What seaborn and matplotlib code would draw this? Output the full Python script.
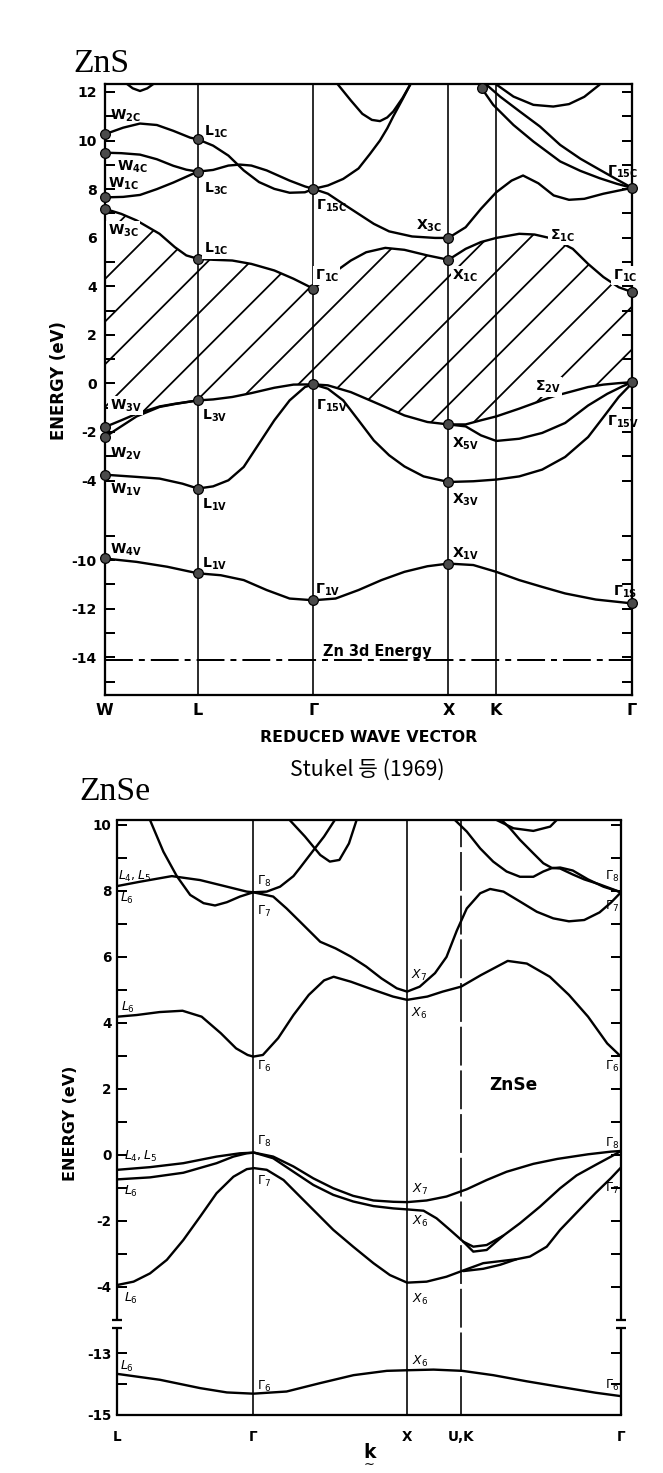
import numpy as np
import matplotlib
matplotlib.use("Agg")
import matplotlib.pyplot as plt
import seaborn as sns

# --------------------------
# Data
# k = path length along the Brillouin-zone path, arbitrary units from the scan
# E = energy in eV
# --------------------------

# ---- ZnS (Stukel et al. 1969) ----
zns_kpts = [117, 360, 662, 1015, 1138, 1495]
zns_klabels = ["W", "L", "Γ", "X", "K", "Γ"]

# lowest conduction band and top valence band on one k grid (hatched gap between them)
zns_k_gap = [117, 160, 200, 260, 300, 330, 360, 400, 450, 500, 560, 610, 662, 700, 760, 800,
             850, 900, 960, 1015, 1060, 1100, 1140, 1200, 1240, 1290, 1340, 1380, 1420, 1460, 1495]
zns_cb1 = [7.19, 6.98, 6.71, 6.16, 5.61, 5.27, 5.13, 5.09, 5.06, 4.92, 4.65, 4.31, 3.90, 4.38, 5.06, 5.40,
           5.58, 5.50, 5.27, 5.09, 5.54, 5.82, 5.99, 6.16, 6.13, 5.95, 5.54, 4.92, 4.38, 3.96, 3.76]
zns_vb1 = [-1.80, -1.52, -1.25, -0.95, -0.84, -0.77, -0.70, -0.66, -0.56, -0.40, -0.18, -0.05, -0.04, -0.08,
           -0.36, -0.63, -0.97, -1.32, -1.59, -1.69, -1.69, -1.52, -1.36, -1.04, -0.81, -0.53, -0.32,
           -0.15, -0.05, 0.01, 0.05]

zns_c2_k = [117, 165, 209, 253, 296, 340, 360, 400, 440, 470, 500, 540, 600, 640, 662, 700, 740, 780, 820,
            860, 920, 980, 1015, 1060, 1100, 1140, 1180, 1210, 1250, 1290, 1330, 1370, 1420, 1460, 1495]
zns_c2_e = [7.66, 7.68, 7.76, 8.00, 8.27, 8.58, 8.72, 8.79, 8.97, 9.01, 8.97, 8.77, 8.35, 8.11, 8.01, 7.81,
            7.39, 6.98, 6.57, 6.26, 6.05, 5.99, 5.99, 6.43, 7.19, 7.87, 8.35, 8.56, 8.24, 7.74, 7.56, 7.60,
            7.81, 7.94, 8.05]
zns_c3_k = [117, 160, 209, 253, 296, 330, 360]
zns_c3_e = [9.50, 9.48, 9.42, 9.23, 8.96, 8.80, 8.72]
zns_c4_k = [117, 165, 209, 253, 296, 340, 360, 400, 440, 480, 520, 560, 600, 640, 662, 700, 740, 780, 810,
            836, 855, 871, 895, 915]
zns_c4_e = [10.26, 10.53, 10.70, 10.64, 10.40, 10.12, 10.05, 9.79, 9.38, 8.77, 8.29, 8.01, 7.85, 7.87, 8.01,
            8.15, 8.42, 8.85, 9.45, 10.00, 10.50, 11.00, 11.70, 12.30]
zns_c5_k = [725, 760, 790, 815, 836, 855, 871, 895, 915]
zns_c5_e = [12.33, 11.65, 11.10, 10.85, 10.80, 10.95, 11.20, 11.75, 12.30]
zns_c6_k = [175, 190, 209, 228, 244]
zns_c6_e = [12.33, 12.15, 12.04, 12.15, 12.33]
zns_c7_k = [1102, 1132, 1185, 1237, 1307, 1360, 1410, 1455, 1495]
zns_c7_e = [12.15, 11.47, 10.64, 9.96, 9.14, 8.75, 8.45, 8.22, 8.05]
zns_c8_k = [1115, 1150, 1202, 1254, 1307, 1360, 1410, 1455, 1495]
zns_c8_e = [12.29, 11.81, 11.19, 10.58, 9.82, 9.25, 8.80, 8.40, 8.05]
zns_c9_k = [1141, 1185, 1237, 1289, 1330, 1370, 1410]
zns_c9_e = [12.30, 11.81, 11.47, 11.40, 11.50, 11.80, 12.30]

zns_v2_k = [117, 150, 200, 260, 300, 360]
zns_v2_e = [-2.21, -1.87, -1.36, -0.97, -0.85, -0.70]
zns_v3_k = [117, 200, 260, 320, 360, 400, 440, 480, 520, 560, 600, 640, 662, 700, 740, 780, 820, 860, 900,
            950, 1015, 1080, 1140, 1200, 1260, 1320, 1380, 1420, 1460, 1495]
zns_v3_e = [-3.76, -3.85, -3.92, -4.13, -4.33, -4.24, -3.99, -3.44, -2.48, -1.52, -0.70, -0.15, -0.04, -0.22,
            -0.70, -1.52, -2.35, -2.96, -3.42, -3.83, -4.06, -4.03, -3.96, -3.83, -3.55, -3.03, -2.21, -1.39,
            -0.56, 0.01]
zns_vs_k = [1015, 1060, 1100, 1140, 1200, 1260, 1320, 1380, 1430, 1470, 1495]
zns_vs_e = [-1.69, -1.77, -2.14, -2.37, -2.28, -2.04, -1.63, -0.91, -0.43, -0.12, 0.05]
zns_v4_k = [117, 200, 280, 360, 420, 480, 540, 600, 662, 720, 780, 840, 900, 960, 1015, 1080, 1140, 1200,
            1260, 1320, 1400, 1495]
zns_v4_e = [-9.93, -10.07, -10.27, -10.54, -10.62, -10.82, -11.23, -11.58, -11.65, -11.58, -11.23, -10.82,
            -10.48, -10.25, -10.14, -10.20, -10.48, -10.82, -11.10, -11.37, -11.62, -11.78]

zns_zn3d = -14.11

zns_dot_k = [117, 117, 117, 117, 117, 117, 117, 117,
             360, 360, 360, 360, 360, 360,
             662, 662, 662, 662,
             1015, 1015, 1015, 1015, 1015,
             1495, 1495, 1495, 1495, 1102]
zns_dot_e = [10.26, 9.50, 7.66, 7.17, -1.80, -2.21, -3.76, -9.93,
             10.05, 8.72, 5.13, -0.70, -4.33, -10.54,
             8.01, 3.90, -0.04, -11.65,
             5.99, 5.09, -1.69, -4.06, -10.14,
             8.05, 3.76, 0.05, -11.78, 12.15]

zns_labels = [
    (r"$\mathbf{W_{2C}}$", 130, 11.03), (r"$\mathbf{W_{4C}}$", 150, 8.93),
    (r"$\mathbf{W_{1C}}$", 125, 8.22), (r"$\mathbf{L_{1C}}$", 375, 10.34),
    (r"$\mathbf{L_{3C}}$", 375, 8.01), (r"$\mathbf{\Gamma_{15C}}$", 668, 7.33),
    (r"$\mathbf{X_{3C}}$", 930, 6.50), (r"$\mathbf{\Gamma_{15C}}$", 1430, 8.70),
    (r"$\mathbf{L_{3V}}$", 370, -1.32), (r"$\mathbf{W_{2V}}$", 130, -2.89),
    (r"$\mathbf{W_{1V}}$", 130, -4.40), (r"$\mathbf{L_{1V}}$", 370, -5.02),
    (r"$\mathbf{\Gamma_{15V}}$", 668, -0.91), (r"$\mathbf{X_{5V}}$", 1025, -2.48),
    (r"$\mathbf{X_{3V}}$", 1025, -4.81), (r"$\mathbf{\Gamma_{15V}}$", 1430, -1.59),
    (r"$\mathbf{W_{4V}}$", 130, -9.58), (r"$\mathbf{L_{1V}}$", 370, -10.13),
    (r"$\mathbf{X_{1V}}$", 1025, -9.72), (r"$\mathbf{\Gamma_{1V}}$", 665, -11.23),
    (r"$\mathbf{\Gamma_{1S}}$", 1445, -11.30),
]
# labels sitting on the hatched area get a white background
zns_labels_boxed = [
    (r"$\mathbf{W_{3C}}$", 125, 6.30), (r"$\mathbf{L_{1C}}$", 375, 5.54),
    (r"$\mathbf{\Gamma_{1C}}$", 665, 4.44), (r"$\mathbf{X_{1C}}$", 1025, 4.44),
    (r"$\mathbf{\Sigma_{1C}}$", 1280, 6.09), (r"$\mathbf{\Gamma_{1C}}$", 1445, 4.44),
    (r"$\mathbf{W_{3V}}$", 130, -0.91), (r"$\mathbf{\Sigma_{2V}}$", 1240, -0.15),
]

zns_yticks = [12, 10, 8, 6, 4, 2, 0, -2, -4, -10, -12, -14]
zns_yminor = [11, 9, 7, 5, 3, 1, -1, -3, -9, -11, -13, -15]

# ---- ZnSe ----
se_kpts = [150, 505, 907, 1048, 1466]
se_klabels = ["L", "Γ", "X", "U,K", "Γ"]

se_b1_k = [150, 200, 260, 320, 370, 420, 460, 490, 505, 530, 570, 610, 650, 690, 715, 760, 820, 870, 907,
           960, 1000, 1048, 1100, 1170, 1220, 1280, 1330, 1380, 1430, 1466]
se_b1_e = [4.19, 4.24, 4.33, 4.37, 4.19, 3.69, 3.23, 3.03, 2.98, 3.03, 3.54, 4.24, 4.85, 5.29, 5.40, 5.25,
           5.00, 4.80, 4.70, 4.80, 4.95, 5.10, 5.45, 5.88, 5.80, 5.40, 4.85, 4.19, 3.38, 2.98]
se_b2_k = [150, 209, 292, 366, 436, 488, 505, 557, 592, 627, 680, 720, 760, 800, 840, 880, 907, 940, 980,
           1010, 1037, 1063, 1098, 1124, 1159, 1202, 1246, 1289, 1330, 1370, 1410, 1440, 1466]
se_b2_e = [8.15, 8.28, 8.45, 8.33, 8.13, 7.98, 7.96, 7.83, 7.47, 7.07, 6.46, 6.26, 6.01, 5.71, 5.35, 5.05,
           4.95, 5.10, 5.51, 6.00, 6.80, 7.47, 7.93, 8.06, 7.98, 7.68, 7.37, 7.17, 7.08, 7.12, 7.35, 7.65, 7.96]
se_b3_k = [235, 270, 305, 340, 375, 405, 436, 470, 505, 540, 575, 610, 627, 660, 690, 718]
se_b3_e = [10.15, 9.19, 8.45, 7.88, 7.63, 7.56, 7.66, 7.83, 7.96, 7.98, 8.13, 8.45, 8.70, 9.20, 9.65, 10.15]
se_b4_k = [600, 640, 680, 705, 730, 755, 775]
se_b4_e = [10.15, 9.65, 9.09, 8.89, 8.94, 9.44, 10.15]
se_b5_k = [1032, 1063, 1098, 1132, 1167, 1202, 1237, 1263, 1285, 1307, 1340, 1380, 1420, 1466]
se_b5_e = [10.15, 9.80, 9.29, 8.89, 8.59, 8.43, 8.43, 8.59, 8.69, 8.71, 8.62, 8.35, 8.13, 7.96]
se_b6_k = [1154, 1176, 1202, 1237, 1263, 1285, 1307, 1340, 1370, 1410, 1466]
se_b6_e = [10.15, 9.90, 9.55, 9.14, 8.84, 8.70, 8.68, 8.50, 8.35, 8.20, 7.96]
se_b7_k = [1141, 1185, 1237, 1281, 1298]
se_b7_e = [10.15, 9.90, 9.82, 9.95, 10.15]

se_v1_k = [150, 235, 322, 409, 470, 507, 557, 610, 662, 714, 766, 819, 871, 907, 958, 1010, 1063, 1115,
           1167, 1237, 1300, 1380, 1440, 1466]
se_v1_e = [-0.45, -0.37, -0.25, -0.05, 0.05, 0.07, -0.05, -0.35, -0.71, -1.01, -1.24, -1.38, -1.42, -1.43,
           -1.38, -1.26, -1.04, -0.76, -0.51, -0.27, -0.12, 0.02, 0.10, 0.12]
se_v2_k = [150, 235, 322, 409, 453, 488, 507, 557, 610, 662, 714, 766, 819, 871, 907, 950, 984, 1019, 1054,
           1080, 1115, 1158, 1202, 1254, 1307, 1350, 1400, 1440, 1466]
se_v2_e = [-0.74, -0.68, -0.54, -0.25, -0.05, 0.05, 0.07, -0.10, -0.51, -0.91, -1.21, -1.41, -1.55, -1.62,
           -1.65, -1.69, -1.92, -2.27, -2.63, -2.78, -2.73, -2.45, -2.07, -1.57, -1.01, -0.62, -0.30, -0.05,
           0.12]
se_v2b_k = [1054, 1080, 1115, 1158]
se_v2b_e = [-2.63, -2.93, -2.88, -2.45]
se_v3_k = [150, 192, 235, 279, 322, 366, 409, 453, 488, 507, 540, 584, 627, 671, 714, 766, 819, 862, 907,
           958, 1010, 1054, 1106, 1193, 1228, 1272, 1307, 1350, 1400, 1440, 1466]
se_v3_e = [-3.94, -3.84, -3.59, -3.18, -2.58, -1.87, -1.16, -0.66, -0.43, -0.40, -0.45, -0.76, -1.26,
           -1.77, -2.27, -2.78, -3.28, -3.64, -3.87, -3.84, -3.69, -3.50, -3.28, -3.16, -3.08, -2.78, -2.27,
           -1.75, -1.15, -0.70, -0.38]
se_v3b_k = [1054, 1106, 1150, 1193]
se_v3b_e = [-3.52, -3.45, -3.33, -3.16]
se_v4_k = [150, 261, 366, 436, 505, 592, 679, 767, 854, 910, 976, 1051, 1132, 1220, 1307, 1400, 1466]
se_v4_e = [-13.67, -13.86, -14.13, -14.27, -14.31, -14.24, -13.97, -13.71, -13.57, -13.55, -13.53, -13.57,
           -13.71, -13.91, -14.09, -14.28, -14.39]

se_labels = [
    (r"$L_4,L_5$", 152, 8.45), (r"$L_6$", 157, 7.78), (r"$\Gamma_8$", 514, 8.28), (r"$\Gamma_7$", 514, 7.37),
    (r"$L_6$", 160, 4.47), (r"$\Gamma_6$", 514, 2.68), (r"$X_7$", 916, 5.45), (r"$X_6$", 916, 4.29),
    (r"$\Gamma_8$", 1424, 8.43), (r"$\Gamma_7$", 1424, 7.53), (r"$\Gamma_6$", 1424, 2.68),
    (r"$\Gamma_8$", 514, 0.40), (r"$L_4,L_5$", 168, -0.05), (r"$L_6$", 168, -1.11),
    (r"$\Gamma_7$", 514, -0.81), (r"$X_7$", 919, -1.06), (r"$X_6$", 919, -2.02), (r"$L_6$", 166, -4.34),
    (r"$X_6$", 919, -4.39), (r"$\Gamma_8$", 1424, 0.35), (r"$\Gamma_7$", 1424, -1.01),
    (r"$L_6$", 157, -13.43), (r"$\Gamma_6$", 514, -14.08), (r"$X_6$", 919, -13.27),
    (r"$\Gamma_6$", 1424, -14.03),
]

se_yticks = [10, 8, 6, 4, 2, 0, -2, -4, -13, -15]
se_yminor = [9, 7, 5, 3, 1, -1, -3, -14]
se_break_hi, se_break_lo = -5.0, -12.18


# --------------------------
# helpers
# --------------------------

def broken_scale(true_nodes, disp_nodes):
    """piecewise-linear energy axis (the original figures squeeze the empty energy range)"""
    t = np.asarray(true_nodes, float)
    d = np.asarray(disp_nodes, float)
    return (lambda e: np.interp(e, t, d)), (lambda y: np.interp(y, d, t))


def draw_bands(ax, bands, lw=1.34):
    for k, e in bands:
        sns.lineplot(x=k, y=e, ax=ax, color="black", lw=lw, estimator=None, sort=False, zorder=3)


# --------------------------
# figure
# --------------------------
sns.set_style("white")
plt.rcParams["font.family"] = ["DejaVu Sans", "Noto Sans CJK KR"]
plt.rcParams["mathtext.fontset"] = "dejavusans"
plt.rcParams["hatch.linewidth"] = 1.0
plt.rcParams["hatch.color"] = "black"
for key in ["text.color", "axes.labelcolor", "xtick.color", "ytick.color", "axes.edgecolor"]:
    plt.rcParams[key] = "black"

DPI = 128  # also sets the hatch spacing
fig = plt.figure(figsize=(663 / DPI, 1473 / DPI), dpi=DPI)
fig.patch.set_facecolor("white")

# ---------------- ZnS ----------------
ax1 = fig.add_axes([0.1581, 0.5282, 0.7953, 0.4148])
ax1.set_yscale("function", functions=broken_scale([-60, -9, -5.2, 60], [-57.28, -6.28, -5.2, 60]))
ax1.set_xlim(zns_kpts[0], zns_kpts[-1])
ax1.set_ylim(-15.55, 12.33)

ax1.fill_between(zns_k_gap, zns_vb1, zns_cb1, facecolor="none", edgecolor="black",
                 hatch="/", lw=0, zorder=1)
for k in zns_kpts[1:-1]:
    ax1.axvline(k, color="black", lw=0.91, zorder=2)

draw_bands(ax1, [(zns_k_gap, zns_cb1), (zns_k_gap, zns_vb1),
                 (zns_c2_k, zns_c2_e), (zns_c3_k, zns_c3_e), (zns_c4_k, zns_c4_e),
                 (zns_c5_k, zns_c5_e), (zns_c6_k, zns_c6_e), (zns_c7_k, zns_c7_e),
                 (zns_c8_k, zns_c8_e), (zns_c9_k, zns_c9_e),
                 (zns_v2_k, zns_v2_e), (zns_v3_k, zns_v3_e), (zns_vs_k, zns_vs_e),
                 (zns_v4_k, zns_v4_e)])

ax1.axhline(zns_zn3d, color="black", lw=1.12, ls=(0, (14, 3, 3, 3)), zorder=2)
ax1.text(830, zns_zn3d + 0.34, "Zn 3d Energy", ha="center", va="center",
         fontsize=8.2, fontweight="bold", zorder=4)

sns.scatterplot(x=zns_dot_k, y=zns_dot_e, ax=ax1, s=30, color="#4a4a4a",
                edgecolor="black", linewidth=0.7, zorder=5, clip_on=False)

for txt, k, e in zns_labels:
    ax1.text(k, e, txt, ha="left", va="center", fontsize=7.9, zorder=6)
for txt, k, e in zns_labels_boxed:
    ax1.text(k, e, txt, ha="left", va="center", fontsize=7.9, zorder=6,
             bbox=dict(facecolor="white", edgecolor="none", pad=0.85))

ax1.set_yticks(zns_yticks)
ax1.set_yticklabels([str(v) for v in zns_yticks], fontsize=7.9, fontweight="bold")
ax1.set_yticks(zns_yminor, minor=True)
ax1.set_xticks(zns_kpts)
ax1.set_xticklabels(zns_klabels, fontsize=9.0, fontweight="bold")
ax1.tick_params(axis="y", which="both", direction="in", left=True, right=True,
                length=5.6, width=1.12, pad=4.5)
ax1.tick_params(axis="x", length=0, pad=4.5)
for sp in ax1.spines.values():
    sp.set_linewidth(1.27)
ax1.set_xlabel("REDUCED WAVE VECTOR", fontsize=8.9, fontweight="bold")
ax1.xaxis.set_label_coords(0.5, -0.057)
ax1.set_ylabel("ENERGY (eV)", fontsize=9.3, fontweight="bold")
ax1.yaxis.set_label_coords(-0.069, 0.515)

# ---------------- ZnSe ----------------
ax2 = fig.add_axes([0.1772, 0.0394, 0.7594, 0.4039])
ax2.set_yscale("function", functions=broken_scale([-60, -15, -12.18, -5.0, 60],
                                                  [-49.955, -7.88, -5.243, -5.0, 60]))
ax2.set_xlim(se_kpts[0], se_kpts[-1])
ax2.set_ylim(-15, 10.15)

ax2.axvline(se_kpts[1], color="black", lw=0.91, zorder=2)
ax2.axvline(se_kpts[2], color="black", lw=0.91, zorder=2)
ax2.axvline(se_kpts[3], color="black", lw=0.91, ls=(0, (24, 3)), zorder=2)

draw_bands(ax2, [(se_b1_k, se_b1_e), (se_b2_k, se_b2_e), (se_b3_k, se_b3_e), (se_b4_k, se_b4_e),
                 (se_b5_k, se_b5_e), (se_b6_k, se_b6_e), (se_b7_k, se_b7_e),
                 (se_v1_k, se_v1_e), (se_v2_k, se_v2_e), (se_v2b_k, se_v2b_e),
                 (se_v3_k, se_v3_e), (se_v3b_k, se_v3b_e), (se_v4_k, se_v4_e)])

for txt, k, e in se_labels:
    ax2.text(k, e, txt, ha="left", va="center", fontsize=7.0, zorder=6)
ax2.text(1185, 2.12, "ZnSe", ha="center", va="center", fontsize=9.6, fontweight="bold")

# broken left / right spines
ax2.spines["left"].set_visible(False)
ax2.spines["right"].set_visible(False)
kx = [se_kpts[0], se_kpts[-1]]
ax2.vlines(kx, se_break_hi, 10.15, color="black", lw=1.27, clip_on=False)
ax2.vlines(kx, -15, se_break_lo, color="black", lw=1.27, clip_on=False)
ax2.plot(kx * 2, [se_break_hi, se_break_hi, se_break_lo, se_break_lo], ls="none", marker="_",
         ms=5.6, mew=1.27, color="black", clip_on=False)
ax2.spines["top"].set_linewidth(1.27)
ax2.spines["bottom"].set_linewidth(1.27)

ax2.set_yticks(se_yticks)
ax2.set_yticklabels([str(v) for v in se_yticks], fontsize=7.6, fontweight="bold")
ax2.set_yticks(se_yminor, minor=True)
ax2.set_xticks(se_kpts)
ax2.set_xticklabels(se_klabels, fontsize=7.6, fontweight="bold")
ax2.tick_params(axis="y", which="both", direction="in", left=True, right=True,
                length=5.6, width=1.12, pad=3.4)
ax2.tick_params(axis="x", length=0, pad=8.4)
ax2.set_xlabel(r"$\underset{\sim}{\mathbf{k}}$", fontsize=10.5)
ax2.xaxis.set_label_coords(0.5, -0.047)
ax2.set_ylabel("ENERGY (eV)", fontsize=9.0, fontweight="bold")
ax2.yaxis.set_label_coords(-0.078, 0.49)

# ---------------- titles ----------------
fig.text(0.110, 0.9511, "ZnS", family="Liberation Serif", fontsize=19.0, va="baseline")
fig.text(0.119, 0.4569, "ZnSe", family="Liberation Serif", fontsize=19.0, va="baseline")
fig.text(0.5535, 0.4773, "Stukel 등 (1969)", family=["Noto Sans CJK KR"], fontsize=12.0,
         ha="center", va="center")

fig.savefig("out.png", dpi=DPI, facecolor="white")
plt.close(fig)
